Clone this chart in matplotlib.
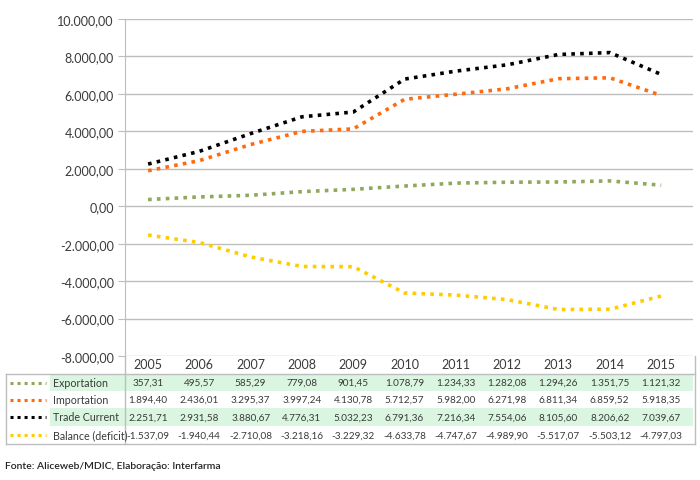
import matplotlib.pyplot as plt
from matplotlib.patches import Rectangle
from matplotlib.lines import Line2D

plt.rcParams['font.family'] = ['Lato', 'DejaVu Sans']

years = [2005, 2006, 2007, 2008, 2009, 2010, 2011, 2012, 2013, 2014, 2015]
exportation = [357.31, 495.57, 585.29, 779.08, 901.45, 1078.79, 1234.33, 1282.08, 1294.26, 1351.75, 1121.32]
importation = [1894.40, 2436.01, 3295.37, 3997.24, 4130.78, 5712.57, 5982.00, 6271.98, 6811.34, 6859.52, 5918.35]
trade_current = [2251.71, 2931.58, 3880.67, 4776.31, 5032.23, 6791.36, 7216.34, 7554.06, 8105.60, 8206.62, 7039.67]
balance = [-1537.09, -1940.44, -2710.08, -3218.16, -3229.32, -4633.78, -4747.67, -4989.90, -5517.07, -5503.12, -4797.03]

names = ['Exportation', 'Importation', 'Trade Current', 'Balance (deficit)']
series = [exportation, importation, trade_current, balance]
colors = ['#8fa85c', '#ff6a0e', '#000000', '#ffcc00']
yticks = list(range(-8000, 10001, 2000))


def br(v):
    s = f"{v:,.2f}"
    return s.replace(',', 'X').replace('.', ',').replace('X', '.')


W, H = 700, 481
fig = plt.figure(figsize=(7, 4.81), dpi=100)
x0 = years[0] - 0.45
x1 = years[-1] + 0.62
grid_c = '#bdbdbd'
txt_c = '#3a3a3a'

ax = fig.add_axes([125 / W, 1 - 357 / H, (693 - 125) / W, (357 - 20) / H])
for s, c in zip(series, colors):
    ax.plot(years, s, color=c, lw=2.6, linestyle=(0, (1, 1.45)), dash_capstyle='butt')
ax.set_xlim(x0, x1)
ax.set_ylim(-8000, 10000)
ax.set_yticks(yticks)
ax.set_yticklabels([br(v) for v in yticks], fontsize=9, color=txt_c)
ax.set_xticks([])
ax.grid(axis='y', color=grid_c, lw=1)
ax.tick_params(axis='y', length=5, color=grid_c, pad=3)
for sp in ['top', 'right', 'bottom']:
    ax.spines[sp].set_visible(False)
ax.spines['left'].set_color(grid_c)

# table below
tax = fig.add_axes([0, 0, 1, 1])
tax.set_xlim(0, W)
tax.set_ylim(H, 0)
tax.axis('off')

col_w = (661 - 148) / 10
centers = [148 + i * col_w for i in range(len(years))]
for xc, yr in zip(centers, years):
    tax.text(xc, 365, str(yr), ha='center', va='center', fontsize=9, color=txt_c)

row_y = [383.5, 400.5, 418, 436]
row_h = 17.5
for i, (nm, s, c, yc) in enumerate(zip(names, series, colors, row_y)):
    if i % 2 == 0:
        tax.add_patch(Rectangle((50, yc - row_h / 2), 693 - 50, row_h, color='#daf5e0', lw=0))
    tax.add_line(Line2D([10, 46], [yc, yc], color=c, lw=2.2, linestyle=(0, (1, 1.3)), dash_capstyle='butt'))
    tax.text(53, yc, nm, ha='left', va='center', fontsize=7.7, color=txt_c)
    for xc, v in zip(centers, s):
        tax.text(xc, yc, br(v), ha='center', va='center', fontsize=7.2, color=txt_c)

tax.add_line(Line2D([6, 695], [375, 375], color=grid_c, lw=1))
tax.add_line(Line2D([6, 695], [445, 445], color=grid_c, lw=1))
tax.add_line(Line2D([6, 6], [375, 445], color=grid_c, lw=1))
tax.add_line(Line2D([695, 695], [357, 445], color=grid_c, lw=1))
tax.add_line(Line2D([125, 125], [357, 445], color=grid_c, lw=1))

tax.text(5, 467, 'Fonte: Aliceweb/MDIC, Elaboração: Interfarma', ha='left', va='center',
         fontsize=7.5, color='#222222', fontweight='semibold')

fig.savefig('out.png', dpi=100)
